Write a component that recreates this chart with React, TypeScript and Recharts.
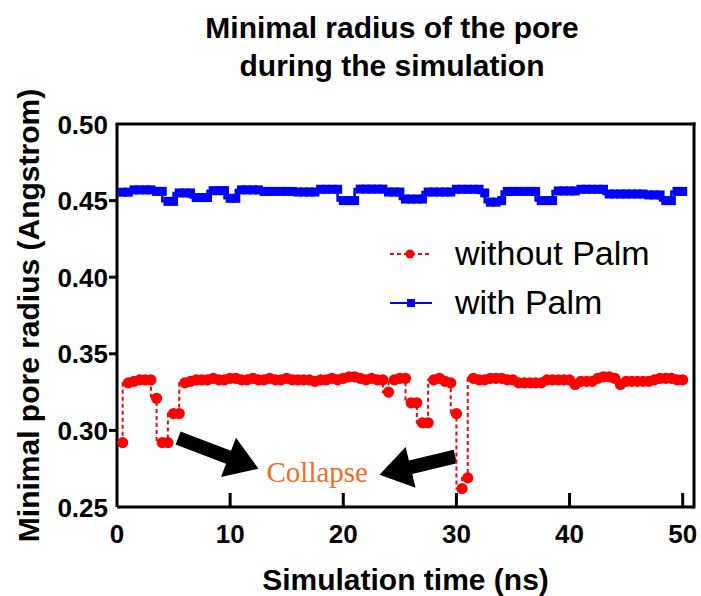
import React from 'react';
import { LineChart, Line, XAxis, YAxis, ReferenceLine, ReferenceDot, Legend } from 'recharts';

// simulation time (ns)
const times = [
  0.5, 1, 1.5, 2, 2.5, 3, 3.5, 4, 4.5, 5,
  5.5, 6, 6.5, 7, 7.5, 8, 8.5, 9, 9.5, 10,
  10.5, 11, 11.5, 12, 12.5, 13, 13.5, 14, 14.5, 15,
  15.5, 16, 16.5, 17, 17.5, 18, 18.5, 19, 19.5, 20,
  20.5, 21, 21.5, 22, 22.5, 23, 23.5, 24, 24.5, 25,
  25.5, 26, 26.5, 27, 27.5, 28, 28.5, 29, 29.5, 30,
  30.5, 31, 31.5, 32, 32.5, 33, 33.5, 34, 34.5, 35,
  35.5, 36, 36.5, 37, 37.5, 38, 38.5, 39, 39.5, 40,
  40.5, 41, 41.5, 42, 42.5, 43, 43.5, 44, 44.5, 45,
  45.5, 46, 46.5, 47, 47.5, 48, 48.5, 49, 49.5, 50,
];

// minimal pore radius without palmitoylation
const withoutPalm = [
  0.292, 0.331, 0.332, 0.333, 0.333, 0.333, 0.321, 0.292, 0.292, 0.311,
  0.311, 0.331, 0.332, 0.333, 0.333, 0.333, 0.334, 0.333, 0.333, 0.334,
  0.334, 0.333, 0.333, 0.334, 0.333, 0.333, 0.334, 0.333, 0.333, 0.334,
  0.333, 0.333, 0.333, 0.333, 0.332, 0.333, 0.333, 0.334, 0.333, 0.334,
  0.335, 0.335, 0.334, 0.333, 0.334, 0.333, 0.333, 0.325, 0.333, 0.334,
  0.334, 0.318, 0.318, 0.305, 0.305, 0.333, 0.334, 0.332, 0.331, 0.311,
  0.262, 0.269, 0.334, 0.333, 0.333, 0.334, 0.334, 0.334, 0.333, 0.333,
  0.331, 0.331, 0.331, 0.331, 0.331, 0.333, 0.333, 0.333, 0.333, 0.333,
  0.330, 0.332, 0.332, 0.332, 0.334, 0.335, 0.335, 0.334, 0.330, 0.332,
  0.332, 0.332, 0.332, 0.332, 0.333, 0.334, 0.334, 0.334, 0.333, 0.333,
];

// minimal pore radius with palmitoylation
const withPalm = [
  0.4555, 0.4555, 0.457, 0.457, 0.457, 0.457, 0.456, 0.456, 0.4495, 0.4495,
  0.455, 0.455, 0.455, 0.452, 0.452, 0.452, 0.4565, 0.4565, 0.4565, 0.4515,
  0.4515, 0.457, 0.457, 0.457, 0.457, 0.456, 0.456, 0.456, 0.456, 0.456,
  0.456, 0.4556, 0.4556, 0.4556, 0.4556, 0.4574, 0.4574, 0.4574, 0.4574, 0.45,
  0.45, 0.45, 0.4575, 0.4575, 0.4575, 0.4575, 0.4575, 0.4556, 0.4556, 0.4556,
  0.451, 0.451, 0.451, 0.451, 0.4556, 0.4556, 0.4556, 0.4556, 0.4556, 0.4574,
  0.4574, 0.4574, 0.4574, 0.4574, 0.455, 0.449, 0.449, 0.45, 0.456, 0.456,
  0.456, 0.456, 0.456, 0.456, 0.45, 0.45, 0.45, 0.4563, 0.4563, 0.4563,
  0.4563, 0.4574, 0.4574, 0.4574, 0.4574, 0.4574, 0.4543, 0.4543, 0.4543, 0.4543,
  0.4543, 0.4543, 0.4543, 0.4537, 0.4537, 0.4537, 0.45, 0.45, 0.456, 0.456,
];

const xTicks = [0, 10, 20, 30, 40, 50];
const yTicks = [0.25, 0.3, 0.35, 0.4, 0.45, 0.5];
const seriesOrder = ['withoutPalm', 'withPalm'];

// "Collapse" annotation arrows, [time, radius] tail -> head
const collapseArrows = [
  { from: [5.4, 0.295], to: [12.5, 0.275] },
  { from: [29.9, 0.283], to: [23.2, 0.271] },
];
const collapseLabel = { time: 17.7, radius: 0.272 };

const data = times.map((t, i) => ({ time: t, withoutPalm: withoutPalm[i], withPalm: withPalm[i] }));

const SANS = '"Liberation Sans", Arial, sans-serif';
const RED = '#ff0000';
const BLUE = '#0000ff';

const XTick = ({ x, y, payload }: any) => (
  <g>
    {payload.value !== 0 && <line x1={x} x2={x} y1={y} y2={y - 14} stroke="#000" strokeWidth={3} />}
    <text x={x} y={y + 36} textAnchor="middle" fontFamily={SANS} fontWeight="bold" fontSize={26} fill="#000">
      {payload.value}
    </text>
  </g>
);

const YTick = ({ x, y, payload }: any) => {
  const edge = payload.value === 0.25 || payload.value === 0.5;
  return (
    <g>
      {!edge && <line x1={x - 8} x2={x} y1={y} y2={y} stroke="#000" strokeWidth={3} />}
      <text x={x - 9} y={y + 9.5} textAnchor="end" fontFamily={SANS} fontWeight="bold" fontSize={26} fill="#000">
        {payload.value.toFixed(2)}
      </text>
    </g>
  );
};

const Arrow = ({ x1, y1, x2, y2 }: any) => {
  const len = Math.hypot(x2 - x1, y2 - y1);
  const ux = (x2 - x1) / len;
  const uy = (y2 - y1) / len;
  const nx = -uy;
  const ny = ux;
  const head = 32;
  const hw = 21;
  const sw = 7;
  const bx = x2 - ux * head;
  const by = y2 - uy * head;
  const pts = [
    [x1 + nx * sw, y1 + ny * sw],
    [bx + nx * sw, by + ny * sw],
    [bx + nx * hw, by + ny * hw],
    [x2, y2],
    [bx - nx * hw, by - ny * hw],
    [bx - nx * sw, by - ny * sw],
    [x1 - nx * sw, y1 - ny * sw],
  ];
  return <polygon points={pts.map((p) => p.join(',')).join(' ')} fill="#000" />;
};

const SquareDot = ({ cx, cy, index }: any) => (
  <rect key={`sq-${index}`} x={cx - 4.5} y={cy - 4.5} width={9} height={9} fill={BLUE} />
);

const renderLegend = (props: any) => {
  const items = [...(props.payload || [])].sort(
    (a: any, b: any) => seriesOrder.indexOf(a.dataKey) - seriesOrder.indexOf(b.dataKey),
  );
  return (
    <div style={{ fontFamily: SANS, fontSize: 34, color: '#000' }}>
      {items.map((entry: any) => (
        <div key={entry.value} style={{ display: 'flex', alignItems: 'center', height: 49 }}>
          <svg width={69} height={20}>
            {entry.dataKey === 'withoutPalm' ? (
              <>
                <line x1={4} x2={44} y1={10} y2={10} stroke={RED} strokeWidth={2} strokeDasharray="4 3" />
                <circle cx={24} cy={10} r={4.5} fill={RED} />
              </>
            ) : (
              <>
                <line x1={4} x2={46} y1={10} y2={10} stroke={BLUE} strokeWidth={2} />
                <rect x={21} y={6} width={8} height={8} fill={BLUE} />
              </>
            )}
          </svg>
          <span>{entry.value}</span>
        </div>
      ))}
    </div>
  );
};

export default function App() {
  return (
    <div style={{ position: 'absolute', left: 0, top: 0, width: 701, height: 596, background: '#fff' }}>
      <div
        style={{
          position: 'absolute',
          left: 0,
          top: 9,
          width: 784,
          textAlign: 'center',
          fontFamily: SANS,
          fontWeight: 'bold',
          fontSize: 30,
          lineHeight: '38px',
          color: '#000',
        }}
      >
        Minimal radius of the pore
        <br />
        during the simulation
      </div>
      <LineChart width={701} height={596} data={data} margin={{ top: 124, right: 7, left: 0, bottom: 0 }}>
        <XAxis
          dataKey="time"
          type="number"
          domain={[0, 51]}
          ticks={xTicks}
          height={89}
          tickSize={0}
          tickMargin={0}
          tickLine={false}
          tick={<XTick />}
          axisLine={{ stroke: '#000', strokeWidth: 3 }}
          label={{
            content: ({ viewBox }: any) => (
              <text
                x={viewBox.x + viewBox.width / 2}
                y={viewBox.y + 83}
                textAnchor="middle"
                fontFamily={SANS}
                fontWeight="bold"
                fontSize={30}
                fill="#000"
              >
                Simulation time (ns)
              </text>
            ),
          }}
        />
        <YAxis
          type="number"
          domain={[0.25, 0.5]}
          ticks={yTicks}
          width={117}
          tickSize={0}
          tickMargin={0}
          tickLine={false}
          tick={<YTick />}
          axisLine={{ stroke: '#000', strokeWidth: 3 }}
          label={{
            content: ({ viewBox }: any) => (
              <text
                transform={`translate(${viewBox.x + 39}, ${viewBox.y + viewBox.height / 2}) rotate(-90)`}
                textAnchor="middle"
                fontFamily={SANS}
                fontWeight="bold"
                fontSize={30}
                fill="#000"
              >
                Minimal pore radius (Angstrom)
              </text>
            ),
          }}
        />
        <ReferenceLine y={0.5} stroke="#000" strokeWidth={3} strokeLinecap="square" />
        <ReferenceLine x={51} stroke="#000" strokeWidth={3} strokeLinecap="square" />
        {collapseArrows.map((a, i) => (
          <ReferenceLine
            key={`arrow-${i}`}
            segment={[
              { x: a.from[0], y: a.from[1] },
              { x: a.to[0], y: a.to[1] },
            ]}
            shape={(p: any) => <Arrow {...p} />}
          />
        ))}
        <ReferenceDot
          x={collapseLabel.time}
          y={collapseLabel.radius}
          r={0}
          shape={(p: any) => (
            <text
              x={p.cx}
              y={p.cy + 9}
              textAnchor="middle"
              fontFamily='"Liberation Serif", "Times New Roman", serif'
              fontSize={29}
              fill="#f26d21"
            >
              Collapse
            </text>
          )}
        />
        <Line
          name="without Palm"
          dataKey="withoutPalm"
          type="stepBefore"
          stroke={RED}
          strokeWidth={2}
          strokeDasharray="4 3"
          dot={{ r: 5.6, fill: RED, stroke: 'none', strokeWidth: 0 }}
          isAnimationActive={false}
        />
        <Line
          name="with Palm"
          dataKey="withPalm"
          type="stepBefore"
          stroke={BLUE}
          strokeWidth={2.5}
          dot={<SquareDot />}
          isAnimationActive={false}
        />
        <Legend
          layout="vertical"
          align="center"
          verticalAlign="middle"
          content={renderLegend}
          wrapperStyle={{ position: 'absolute', left: 386, top: 229, width: 310 }}
        />
      </LineChart>
    </div>
  );
}
